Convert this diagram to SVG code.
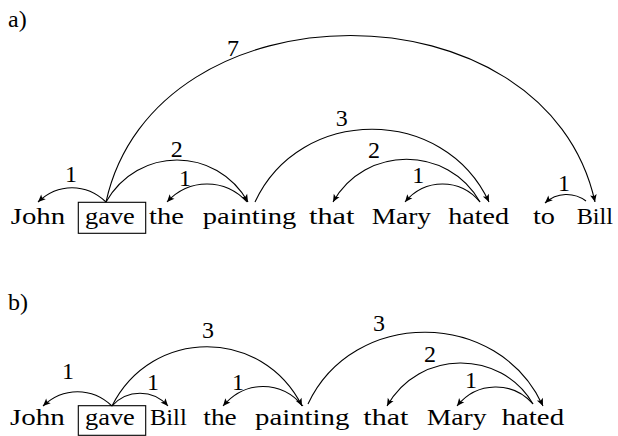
<svg xmlns="http://www.w3.org/2000/svg" width="618" height="436" viewBox="0 0 618 436">
<defs>
<marker id="ah" viewBox="-8 -4 9 8" markerWidth="9" markerHeight="8" refX="0" refY="0" orient="auto" markerUnits="userSpaceOnUse">
<path d="M0,0 L-7.5,-3.3 L-5.8,0 L-7.5,3.3 Z" fill="#000"/>
</marker>
</defs>
<rect width="618" height="436" fill="#fff"/>
<g font-family="Liberation Serif, serif" font-size="24" fill="#000">
<text x="8" y="27">a)</text>
<text x="8" y="310">b)</text>

<g id="a-John"><text transform="translate(10.7,224) scale(1.2,1)">John</text></g>
<g id="a-gave"><rect x="78.3" y="202.3" width="67.4" height="31" fill="none" stroke="#000" stroke-width="1.1"/><text transform="translate(85,224) scale(1.1,1)">gave</text></g>
<g id="a-the"><text transform="translate(149,224) scale(1.19,1)">the</text></g>
<g id="a-painting"><text transform="translate(202.7,224) scale(1.19,1)">painting</text></g>
<g id="a-that"><text transform="translate(309,224) scale(1.26,1)">that</text></g>
<g id="a-Mary"><text transform="translate(371.7,224) scale(1.14,1)">Mary</text></g>
<g id="a-hated"><text transform="translate(448.3,224) scale(1.17,1)">hated</text></g>
<g id="a-to"><text transform="translate(533,224) scale(1.18,1)">to</text></g>
<g id="a-Bill"><text transform="translate(576.7,224) scale(1.01,1)">Bill</text></g>

<g id="a-connectors" fill="none" stroke="#000" stroke-width="1.1">
<path marker-end="url(#ah)" d="M106,202 C86,183 58,183 38,202"/>
<path marker-end="url(#ah)" d="M106,202 C138,146 216,146 248,202"/>
<path marker-end="url(#ah)" d="M247,202 C225,178 189,178 167,202"/>
<path marker-end="url(#ah)" d="M106,202 C155,-20 546,-20 595,202"/>
<path marker-end="url(#ah)" d="M255,202 C300,105 444,105 489,202"/>
<path marker-end="url(#ah)" d="M480,202 C448,145 365,145 333,202"/>
<path marker-end="url(#ah)" d="M480,202 C460,178 425,178 405,202"/>
<path marker-end="url(#ah)" d="M586,201 C574,192 557,192 545,203"/>
</g>
<g id="a-labels" text-anchor="middle">
<text x="71" y="181.7">1</text>
<text x="176.7" y="156.7">2</text>
<text x="185" y="186">1</text>
<text x="233" y="56">7</text>
<text x="341.7" y="126">3</text>
<text x="374" y="157.7">2</text>
<text x="418.3" y="183.3">1</text>
<text x="564" y="191">1</text>
</g>

<g id="b-John"><text transform="translate(10,425) scale(1.21,1)">John</text></g>
<g id="b-gave"><rect x="78.3" y="405.7" width="67.4" height="29.6" fill="none" stroke="#000" stroke-width="1.1"/><text transform="translate(85,425) scale(1.1,1)">gave</text></g>
<g id="b-Bill"><text transform="translate(150,425) scale(1.02,1)">Bill</text></g>
<g id="b-the"><text transform="translate(203.3,425) scale(1.14,1)">the</text></g>
<g id="b-painting"><text transform="translate(255,425) scale(1.2,1)">painting</text></g>
<g id="b-that"><text transform="translate(363.3,425) scale(1.25,1)">that</text></g>
<g id="b-Mary"><text transform="translate(426.7,425) scale(1.15,1)">Mary</text></g>
<g id="b-hated"><text transform="translate(501.7,425) scale(1.2,1)">hated</text></g>

<g id="b-connectors" fill="none" stroke="#000" stroke-width="1.1">
<path marker-end="url(#ah)" d="M112,406 C92,387 63,387 43,406"/>
<path marker-end="url(#ah)" d="M112,406 C127,389 153,389 168,406"/>
<path marker-end="url(#ah)" d="M112,406 C152,327 262,327 302,406"/>
<path marker-end="url(#ah)" d="M303,406 C281,380 245,380 223,406"/>
<path marker-end="url(#ah)" d="M308,404 C353,308 498,308 543,406"/>
<path marker-end="url(#ah)" d="M533,404 C501,349 419,349 387,406"/>
<path marker-end="url(#ah)" d="M533,404 C513,381 477,381 457,406"/>
</g>
<g id="b-labels" text-anchor="middle">
<text x="68" y="379.3">1</text>
<text x="153" y="390">1</text>
<text x="208" y="338.3">3</text>
<text x="238" y="390">1</text>
<text x="379" y="330.7">3</text>
<text x="430" y="361.7">2</text>
<text x="471" y="388.3">1</text>
</g>
</g>
</svg>
